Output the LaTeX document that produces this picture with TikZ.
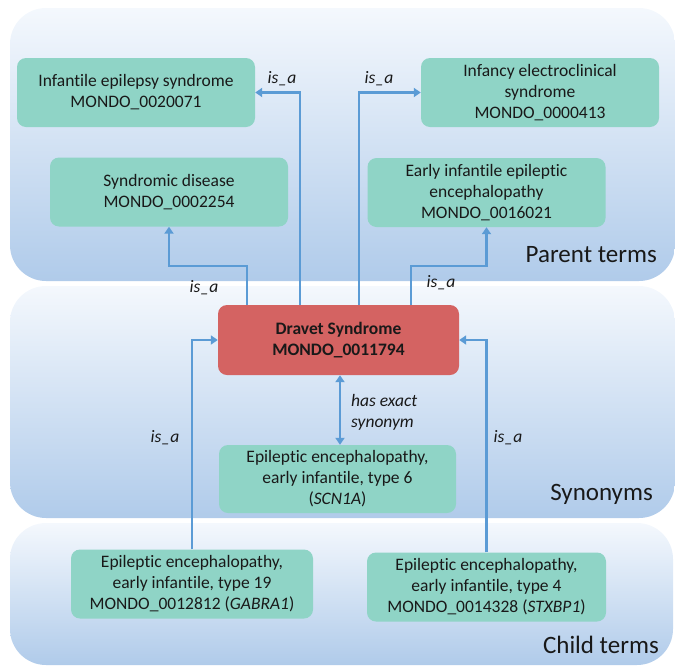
\documentclass[tikz,border=0pt]{standalone}
\usepackage{fontspec}
\setmainfont{Carlito}[Ligatures=NoCommon]
\usetikzlibrary{arrows.meta}

\definecolor{termfill}{RGB}{143,212,198}
\definecolor{rootfill}{RGB}{212,99,98}
\definecolor{linkblue}{RGB}{91,155,213}
\definecolor{paneltop}{RGB}{244,248,253}
\definecolor{panelbot}{RGB}{176,203,234}

\begin{document}
\begin{tikzpicture}[x=1pt,y=-1pt,text=black!90,
  term/.style={rectangle,rounded corners=9pt,fill=termfill,align=center,inner sep=0pt,
    minimum width=238pt,minimum height=69pt,font=\fontsize{17.5}{21}\selectfont},
  isa/.style={linkblue,line width=2.6pt,-{Triangle[length=7pt,width=9pt]}},
  syn/.style={linkblue,line width=2.2pt,{Triangle[length=7pt,width=9pt]}-{Triangle[length=7pt,width=9pt]}},
  rel/.style={inner sep=0pt,font=\fontsize{17.5}{21}\selectfont\itshape},
  panel/.style={rounded corners=36pt,top color=paneltop,bottom color=panelbot,draw=none},
  paneltitle/.style={anchor=base east,inner sep=0pt,font=\fontsize{25}{30}\selectfont}]
  \useasboundingbox (0,0) rectangle (675,667);
  % fondos de las tres zonas
  \path[panel] (10,8) rectangle (675,281);
  \path[panel] (10,286) rectangle (675,518);
  \path[panel] (10,523) rectangle (673,665);
  \node[paneltitle] (tparent) at (657,262) {Parent terms};
  \node[paneltitle] (tsyn) at (653,500) {Synonyms};
  \node[paneltitle] (tchild) at (659,653) {Child terms};
  % terminos
  \node[term] (infep) at (136,92.5) {Infantile epilepsy syndrome\\MONDO\_0020071};
  \node[term] (infelec) at (540,92.5) {Infancy electroclinical\\syndrome\\MONDO\_0000413};
  \node[term] (syndis) at (169,192) {Syndromic disease\\MONDO\_0002254};
  \node[term] (eiee) at (486.5,192.5) {Early infantile epileptic\\encephalopathy\\MONDO\_0016021};
  \node[term,fill=rootfill,minimum width=241pt,minimum height=70pt,font=\fontsize{17.5}{21}\selectfont\bfseries]
    (dravet) at (338.5,340) {Dravet Syndrome\\MONDO\_0011794};
  \node[term,minimum width=237pt,minimum height=68pt] (scn) at (337.5,479)
    {Epileptic encephalopathy,\\early infantile, type 6\\(\textit{SCN1A})};
  \node[term,minimum width=242pt] (gabra) at (192,584)
    {Epileptic encephalopathy,\\early infantile, type 19\\MONDO\_0012812 (\textit{GABRA1})};
  \node[term,minimum width=239pt] (stxbp) at (486.5,587)
    {Epileptic encephalopathy,\\early infantile, type 4\\MONDO\_0014328 (\textit{STXBP1})};
  % relaciones is_a
  \draw[isa] ([xshift=-91.5pt]dravet.north) -- ++(0,-39) -| (syndis.south);
  \draw[isa] ([xshift=-38.5pt]dravet.north) |- (infep.east);
  \draw[isa] ([xshift=20.5pt]dravet.north) |- (infelec.west);
  \draw[isa] ([xshift=72.5pt]dravet.north) -- ++(0,-39) -| (eiee.south);
  \draw[isa] (gabra.north) |- (dravet.west);
  \draw[isa] (stxbp.north) |- (dravet.east);
  \draw[syn] ([xshift=1.5pt]dravet.south) -- ([xshift=1.5pt]dravet.south |- scn.north);
  \node[rel] (isa1) at (204,288) {is\_a};
  \node[rel] (isa2) at (282,79) {is\_a};
  \node[rel] (isa3) at (379,79) {is\_a};
  \node[rel] (isa4) at (441,283) {is\_a};
  \node[rel] (isa5) at (165,438) {is\_a};
  \node[rel] (isa6) at (508,438) {is\_a};
  \node[rel,anchor=west,align=left] (hes) at (351,412) {has exact\\synonym};
\end{tikzpicture}
\end{document}
